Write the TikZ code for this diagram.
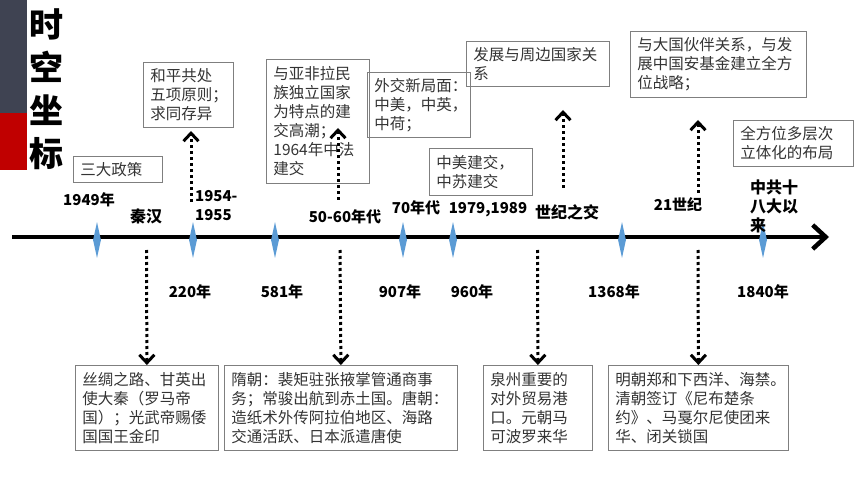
\documentclass[tikz,border=0pt]{standalone}
\usepackage{fontspec}
\setmainfont{Noto Sans CJK SC}
\usetikzlibrary{arrows.meta,shapes.geometric}
\definecolor{bardark}{HTML}{3F4352}
\definecolor{barred}{HTML}{C00000}
\definecolor{tick}{HTML}{5B9BD5}
\definecolor{frame}{HTML}{7F7F7F}
\definecolor{ink}{HTML}{333333}
\tikzset{
    box/.style={draw=frame,line width=0.8pt,anchor=north west,align=left,inner xsep=7pt,inner ysep=2pt,text=ink,font=\fontsize{15.5}{19}\selectfont},
    yr/.style={font=\bfseries\fontsize{15}{19}\selectfont,inner sep=0pt},
    era/.style={font=\bfseries\fontsize{16}{19}\selectfont,inner sep=0pt},
    dia/.style={diamond,fill=tick,inner sep=0pt,minimum width=8pt,minimum height=36pt},
    link/.style={line width=3pt,dash pattern=on 3pt off 3pt,-{Straight Barb[length=8pt,width=15pt,line width=3pt]}}
}

\begin{document}
\begin{tikzpicture}[x=1pt,y=-1pt]
    \useasboundingbox(0,0)rectangle(860,484);
    \fill[bardark](0,0)rectangle(27,113);
    \fill[barred](0,113)rectangle(27,170);
    \node[font=\bfseries\fontsize{34}{43}\selectfont,align=center,inner sep=0pt](title)at(46,89){时\\空\\坐\\标};

    \coordinate(t0)at(12,237);
    \coordinate(t1)at(829,237);
    \draw[line width=4.5pt,-{Straight Barb[length=13pt,width=24pt]}](t0)--(t1);
    \foreach \x/\n in {97/d1,193/d2,275/d3,403/d4,453/d5,622/d6,763/d7}
        \node[dia](\n)at(\x,240){};

    \node[yr](y1949)at(89,200){1949年};
    \node[era](qinhan)at(146,216){秦汉};
    \node[yr,align=left,anchor=west](y1954)at(195,206){1954-\\1955};
    \node[yr](y5060)at(345,217){50-60年代};
    \node[yr](y70)at(416,208){70年代};
    \node[yr](y7989)at(488,210){1979,1989};
    \node[era](turn)at(567,212){世纪之交};
    \node[yr](c21)at(678,205){21世纪};
    \node[era,align=left,anchor=north west](cpc18)at(750,180){中共十\\八大以\\来};

    \node[yr](y220)at(190,292){220年};
    \node[yr](y581)at(282,292){581年};
    \node[yr](y907)at(400,292){907年};
    \node[yr](y960)at(472,292){960年};
    \node[yr](y1368)at(614,292){1368年};
    \node[yr](y1840)at(763,292){1840年};

    \node[box,text width=75pt,minimum height=26pt](policy)at(73,156){三大政策};
    \node[box,text width=76pt,minimum height=65pt](peace)at(143,62){和平共处\\五项原则；\\求同存异};
    \node[box,text width=89pt,minimum height=124pt](afro)at(266,59){与亚非拉民\\族独立国家\\为特点的建\\交高潮；\\1964年中法\\建交};
    \node[box,text width=89pt,minimum height=65pt](newdip)at(367,72){外交新局面：\\中美，中英，\\中荷；};
    \node[box,text width=129pt,minimum height=45pt](neigh)at(466,41){发展与周边国家关\\系};
    \node[box,text width=89pt,minimum height=47pt](ussr)at(429,148){中美建交，\\中苏建交};
    \node[box,text width=162pt,minimum height=66pt](partner)at(630,31){与大国伙伴关系，与发\\展中国安基金建立全方\\位战略；};
    \node[box,text width=106pt,minimum height=46pt](layout)at(733,120){全方位多层次\\立体化的布局};

    \node[box,text width=129pt,minimum height=85pt](silk)at(75,365){丝绸之路、甘英出\\使大秦（罗马帝\\国）；光武帝赐倭\\国国王金印};
    \node[box,text width=219pt,minimum height=85pt](suitang)at(224,365){隋朝：裴矩驻张掖掌管通商事\\务；常骏出航到赤土国。唐朝：\\造纸术外传阿拉伯地区、海路\\交通活跃、日本派遣唐使};
    \node[box,text width=95pt,minimum height=85pt](quanzhou)at(483,365){泉州重要的\\对外贸易港\\口。元朝马\\可波罗来华};
    \node[box,text width=166pt,minimum height=85pt](mingqing)at(608,365){明朝郑和下西洋、海禁。\\清朝签订《尼布楚条\\约》、马戛尔尼使团来\\华、闭关锁国};

    \coordinate(u1)at(191,202);\coordinate(v1)at(191,131);
    \coordinate(u2)at(338,200);\coordinate(v2)at(338,128);
    \coordinate(u3)at(563,188);\coordinate(v3)at(563,110);
    \coordinate(u4)at(698,193);\coordinate(v4)at(698,120);
    \foreach \i in {1,...,4}
        \draw[link](u\i)--(v\i);

    \coordinate(s1)at(146.5,250);
    \coordinate(s2)at(340,250);
    \coordinate(s3)at(537.5,250);
    \coordinate(s4)at(698,250);
    \draw[link](s1)--(silk.north);
    \draw[link](s2)--(suitang.north);
    \draw[link](s3)--(quanzhou.north);
    \draw[link](s4)--(mingqing.north);
\end{tikzpicture}
\end{document}
